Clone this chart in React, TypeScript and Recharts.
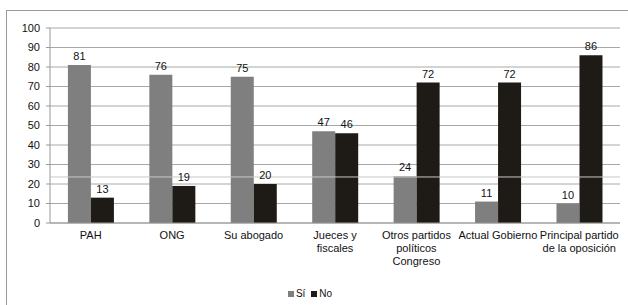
import React from "react";
import { BarChart, Bar, XAxis, YAxis, CartesianGrid, LabelList, Legend, ReferenceLine } from "recharts";

const categories = ["PAH", "ONG", "Su abogado", "Jueces y\nfiscales", "Otros partidos\npolíticos\nCongreso", "Actual Gobierno", "Principal partido\nde la oposición"];
const siValues = [81, 76, 75, 47, 24, 11, 10];
const noValues = [13, 19, 20, 46, 72, 72, 86];
const yTicks = [0, 10, 20, 30, 40, 50, 60, 70, 80, 90, 100];
const boundaryTicks = [0, 1, 2, 3, 4, 5, 6, 7];

const data = categories.map((c, i) => ({ name: c, si: siValues[i], no: noValues[i] }));

const FONT = "'Liberation Sans', Arial, sans-serif";
const GRAY = "#7f7f7f";
const DARK = "#1e1b16";

const CatTick = (props: any) => {
  const { x, y, payload } = props;
  const lines = String(payload.value).split("\n");
  return (
    <text x={x} y={y} textAnchor="middle" fontFamily={FONT} fontSize={11} fill="#111">
      {lines.map((l, i) => (
        <tspan key={i} x={x} dy={i === 0 ? 8 : 13}>{l}</tspan>
      ))}
    </text>
  );
};

const LegendContent = () => (
  <div style={{ display: "flex", justifyContent: "center", alignItems: "center", fontFamily: FONT, fontSize: 10, color: "#111", marginTop: 3 }}>
    <span style={{ display: "inline-block", width: 6, height: 6, background: GRAY, marginRight: 2 }} />
    <span style={{ marginRight: 6 }}>Sí</span>
    <span style={{ display: "inline-block", width: 6, height: 6, background: DARK, marginRight: 2 }} />
    <span>No</span>
  </div>
);

export default function App() {
  return (
    <div style={{ position: "absolute", left: 0, top: 0, width: 628, height: 305, overflow: "hidden", background: "#fff" }}>
      <div style={{ position: "absolute", left: 6, top: 10, width: 700, height: 400, borderTop: "1.5px solid #9a9a9a", borderLeft: "1.5px solid #9a9a9a" }} />
      <div style={{ position: "absolute", left: 0, top: 0 }}>
        <BarChart width={628} height={305} data={data} margin={{ top: 28, right: 8, left: 0, bottom: 0 }} barCategoryGap="22%" barGap={0}>
          <CartesianGrid vertical={false} stroke="#a8a8a8" />
          <XAxis xAxisId="b" type="number" domain={[0, 7]} ticks={boundaryTicks} tick={false} tickSize={4} axisLine={false} tickLine={{ stroke: "#999" }} height={0} allowDataOverflow />
          <XAxis dataKey="name" interval={0} tick={<CatTick />} tickLine={false} axisLine={{ stroke: "#999" }} height={62} />
          <YAxis domain={[0, 100]} ticks={yTicks} width={50} tickSize={4} tickMargin={6} axisLine={{ stroke: "#999" }} tickLine={{ stroke: "#999" }} tick={{ fontFamily: FONT, fontSize: 11, fill: "#111" }} interval={0} />
          <Legend verticalAlign="bottom" height={20} content={<LegendContent />} />
          <Bar dataKey="si" name="Sí" fill={GRAY} isAnimationActive={false}>
            <LabelList dataKey="si" position="top" offset={5} style={{ fontFamily: FONT, fontSize: 11, fill: "#111" }} />
          </Bar>
          <Bar dataKey="no" name="No" fill={DARK} isAnimationActive={false}>
            <LabelList dataKey="no" position="top" offset={5} style={{ fontFamily: FONT, fontSize: 11, fill: "#111" }} />
          </Bar>
          <ReferenceLine y={23.6} stroke="#c8c8c8" strokeWidth={1} />
        </BarChart>
      </div>
    </div>
  );
}
